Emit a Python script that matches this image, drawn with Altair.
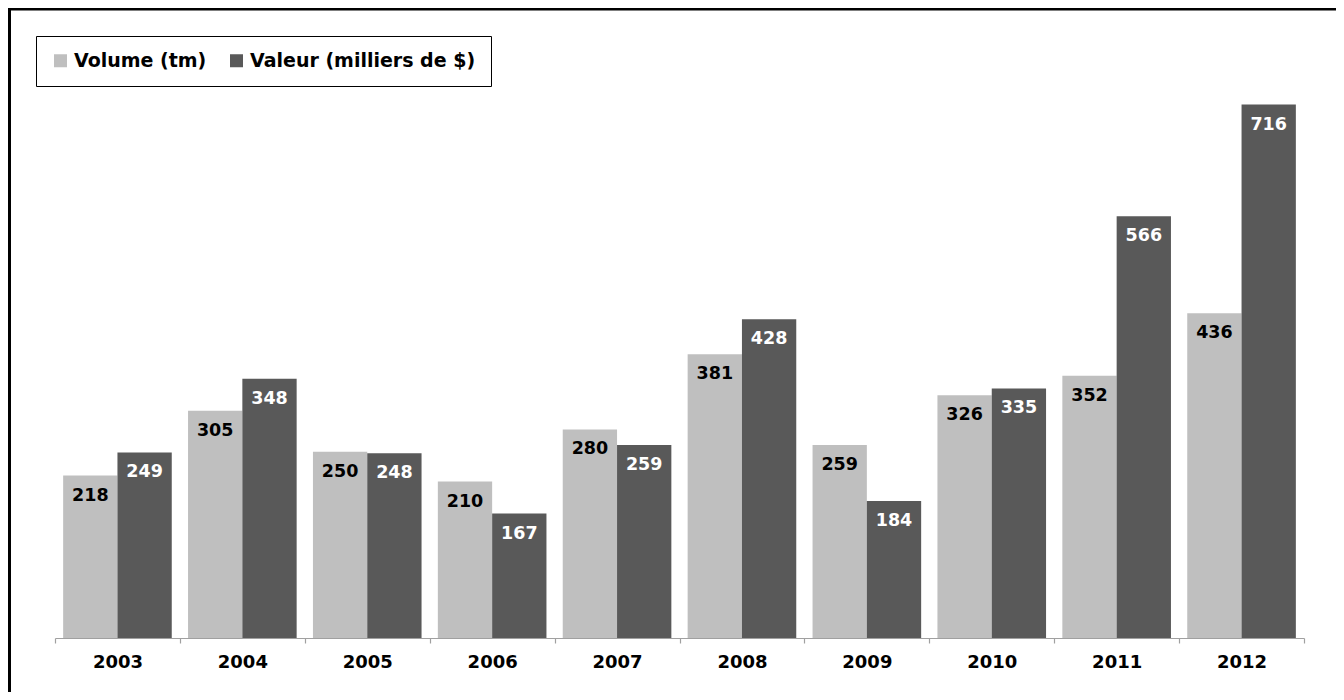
import altair as alt
import pandas as pd

years = ["2003", "2004", "2005", "2006", "2007", "2008", "2009", "2010", "2011", "2012"]
volume = [218, 305, 250, 210, 280, 381, 259, 326, 352, 436]
valeur = [249, 348, 248, 167, 259, 428, 184, 335, 566, 716]
series = ["Volume (tm)", "Valeur (milliers de $)"]
colors = ["#bfbfbf", "#595959"]

rows = []
for i, yr in enumerate(years):
    rows.append({"year": yr, "series": series[0], "value": volume[i]})
    rows.append({"year": yr, "series": series[1], "value": valeur[i]})
df = pd.DataFrame(rows)

FONT = "DejaVu Sans"

x = alt.X(
    "year:N", title=None, sort=years,
    scale=alt.Scale(paddingInner=0, paddingOuter=0),
    axis=alt.Axis(
        labelAngle=0, labelFont=FONT, labelFontSize=18, labelFontWeight="bold",
        labelColor="black", domainColor="#a0a0a0", tickColor="#a0a0a0",
        tickBand="extent", tickSize=5, labelPadding=10, domainWidth=1.2, tickWidth=1.2,
    ),
)
xoff = alt.XOffset("series:N", sort=series, scale=alt.Scale(domain=series, paddingOuter=0.15, paddingInner=0))
y = alt.Y("value:Q", scale=alt.Scale(domain=[0, 800]), axis=None)

color = alt.Color(
    "series:N", sort=series,
    scale=alt.Scale(domain=series, range=colors),
    legend=alt.Legend(
        title=None, orient="none", legendX=-19, legendY=-6, direction="horizontal",
        strokeColor="black", fillColor="white", padding=15,
        symbolType="square", symbolSize=169, symbolStrokeWidth=0,
        labelFont=FONT, labelFontSize=19, labelFontWeight="bold", labelColor="black",
        labelLimit=400, columnPadding=20, labelOffset=4,
    ),
)

bars = alt.Chart(df).mark_bar().encode(x=x, xOffset=xoff, y=y, color=color)

labels = alt.Chart(df).mark_text(
    baseline="middle", align="center", dy=20, font=FONT, fontSize=17.5, fontWeight="bold"
).encode(
    x=x, xOffset=xoff, y=y, text="value:Q",
    color=alt.condition(alt.datum.series == series[0], alt.value("black"), alt.value("white")),
)

one = pd.DataFrame({"a": [0]})
left_border = alt.Chart(one).mark_rule(color="black", strokeWidth=3).encode(
    x=alt.value(-45.5), y=alt.value(-34), y2=alt.value(650)
)
top_border = alt.Chart(one).mark_rule(color="black", strokeWidth=3).encode(
    y=alt.value(-33), x=alt.value(-47), x2=alt.value(1281)
)

chart = alt.layer(bars, labels, left_border, top_border).properties(
    width=1249, height=596,
    padding={"left": 47, "top": 34, "right": 32, "bottom": 54},
    autosize=alt.AutoSizeParams(type="none"),
    background="white",
).configure_view(strokeWidth=0, stroke="transparent")

chart.save("out.html", embed_options={"renderer": "svg", "actions": False})
